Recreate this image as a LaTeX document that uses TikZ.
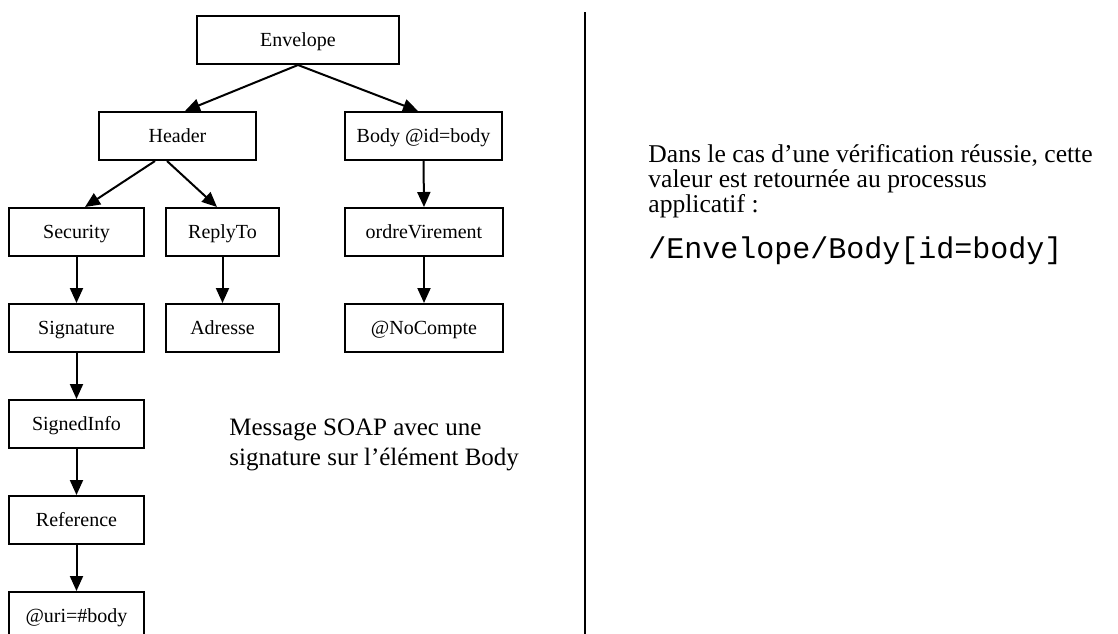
\documentclass[tikz,border=0pt]{standalone}
\usepackage{fontspec}
\setmainfont{Liberation Serif}
\setmonofont{Liberation Mono}
\usetikzlibrary{arrows.meta}
\tikzset{
  elem/.style={draw,line width=1pt,minimum height=24pt,inner sep=0pt,text height=8pt,text depth=1.5pt,font=\fontsize{10}{12}\selectfont},
  fl/.style={line width=1pt,-{Triangle[width=6.5pt,length=7.5pt]}}
}

\begin{document}
\begin{tikzpicture}[x=0.5pt,y=-0.5pt]
    \useasboundingbox (0,0) rectangle (1118,633);
    % arbre du message SOAP
    \node[elem,minimum width=101pt] (env) at (298,40) {Envelope};
    \node[elem,minimum width=78.5pt] (header) at (177.5,136) {Header};
    \node[elem,minimum width=78.5pt] (body) at (423.5,136) {Body @id=body};
    \node[elem,minimum width=67.5pt] (security) at (76.5,232) {Security};
    \node[elem,minimum width=56.5pt] (replyto) at (222.5,232) {ReplyTo};
    \node[elem,minimum width=79pt] (ordre) at (424,232) {ordreVirement};
    \node[elem,minimum width=67.5pt] (signature) at (76.5,328) {Signature};
    \node[elem,minimum width=56.5pt] (adresse) at (222.5,328) {Adresse};
    \node[elem,minimum width=79pt] (compte) at (424,328) {@NoCompte};
    \node[elem,minimum width=67.5pt] (signedinfo) at (76.5,424) {SignedInfo};
    \node[elem,minimum width=67.5pt] (reference) at (76.5,520) {Reference};
    \node[elem,minimum width=67.5pt] (uri) at (76.5,616) {@uri=\#body};
    % fleches
    \draw[fl] (env.south) -- ([xshift=3.75pt]header.north);
    \draw[fl] (env.south) -- ([xshift=-2.75pt]body.north);
    \draw[fl] ([xshift=-11.25pt]header.south) -- ([xshift=4.25pt]security.north);
    \draw[fl] ([xshift=-5.25pt]header.south) -- ([xshift=-2.75pt]replyto.north);
    \draw[fl] (body.south) -- (ordre.north);
    \draw[fl] (security.south) -- (signature.north);
    \draw[fl] (replyto.south) -- (adresse.north);
    \draw[fl] (ordre.south) -- (compte.north);
    \draw[fl] (signature.south) -- (signedinfo.north);
    \draw[fl] (signedinfo.south) -- (reference.north);
    \draw[fl] (reference.south) -- (uri.north);
    \node[anchor=base west,align=left,inner sep=0pt,font=\fontsize{12.5}{15}\selectfont] (legende) at (229,465)
      {Message SOAP avec une\\signature sur l’élément Body};
    % separation
    \coordinate (haut) at (585,12);
    \coordinate (bas) at (585,640);
    \draw[line width=1pt] (haut) -- (bas);
    % texte de droite
    \node[anchor=base west,align=left,inner sep=0pt,font=\fontsize{12.8}{12.5}\selectfont] (texte) at (648,212)
      {Dans le cas d’une vérification réussie, cette\\valeur est retournée au processus\\applicatif :};
    \node[anchor=base west,inner sep=0pt,font=\ttfamily\fontsize{15}{18}\selectfont] (chemin) at (648,258)
      {/Envelope/Body[id=body]};
\end{tikzpicture}
\end{document}
